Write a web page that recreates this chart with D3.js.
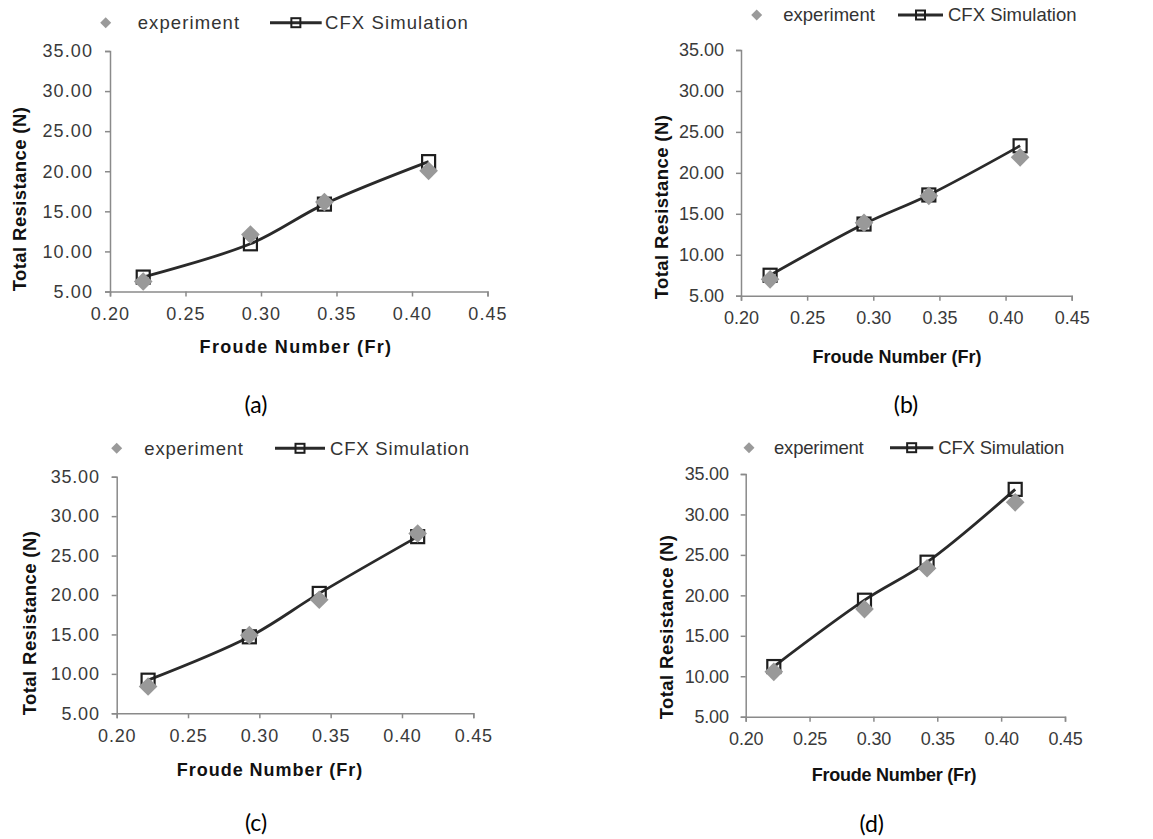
<!DOCTYPE html>
<html>
<head>
<meta charset="utf-8">
<script src="https://cdn.jsdelivr.net/npm/d3@7"></script>
<style>
  body { margin: 0; background: #fff; }
  svg { display: block; }
  .tick text { fill: #3a3a3a; font-family: "Liberation Sans", Arial, sans-serif; font-size: 18px; }
  .axis path, .axis line { stroke: #8a8a8a; stroke-width: 1.5; }
</style>
</head>
<body>
<div id="chart"></div>
<script>
// data
var froude = [0.222, 0.293, 0.342, 0.411];

var expA = [6.25, 12.1, 16.15, 20.05];
var simA = [6.8, 10.95, 15.9, 21.2];
var expB = [7.0, 13.9, 17.2, 21.9];
var simB = [7.5, 13.75, 17.3, 23.3];
var expC = [8.4, 14.9, 19.4, 27.8];
var simC = [9.2, 14.7, 20.2, 27.4];
var expD = [10.55, 18.3, 23.35, 31.5];
var simD = [11.2, 19.4, 24.1, 33.1];

var xTicks = [0.20, 0.25, 0.30, 0.35, 0.40, 0.45];
var yTicks = [5, 10, 15, 20, 25, 30, 35];
var seriesNames = ['experiment', 'CFX Simulation'];
var panelLabels = ['(a)', '(b)', '(c)', '(d)'];
var xTitle = 'Froude Number (Fr)';
var yTitle = 'Total Resistance (N)';

// layout of each panel (pixels)
var panels = [
    { exp: expA, sim: simA, x0: 110, x1: 487.5, yT: 51, yB: 291.5, ls: 1.1,
      leg: { dx: 105.7, y: 22.7, tx: 137.7, l0: 270, l1: 321.7, cx: 325 },
      yt: { x: 20, y: 199 }, xt: { x: 296, y: 347 }, lab: { x: 256, y: 413 } },
    { exp: expB, sim: simB, x0: 741, x1: 1071.7, yT: 50, yB: 295.7, ls: 0,
      leg: { dx: 756.7, y: 15, tx: 783.3, l0: 898, l1: 943, cx: 948 },
      yt: { x: 661.7, y: 207 }, xt: { x: 897, y: 357 }, lab: { x: 906, y: 413 } },
    { exp: expC, sim: simC, x0: 116.7, x1: 473.3, yT: 476.7, yB: 713.3, ls: 0.8,
      leg: { dx: 116.7, y: 448.3, tx: 144.3, l0: 275, l1: 325, cx: 330 },
      yt: { x: 30, y: 623 }, xt: { x: 270, y: 770 }, lab: { x: 256, y: 831 } },
    { exp: expD, sim: simD, x0: 745.7, x1: 1065, yT: 474, yB: 716.7, ls: -0.2,
      leg: { dx: 749, y: 447.7, tx: 774, l0: 890, l1: 933.3, cx: 938.3 },
      yt: { x: 666.7, y: 627 }, xt: { x: 894, y: 775 }, lab: { x: 871.7, y: 832 } }
];

var svg = d3.select('#chart').append('svg')
    .attr('width', 1153)
    .attr('height', 839);

var diamond = d3.symbol().type(d3.symbolSquare).size(175);
var legDiamond = d3.symbol().type(d3.symbolSquare).size(60);

panels.forEach(function (p, i) {
    var xScale = d3.scaleLinear().domain([0.20, 0.45]).range([p.x0, p.x1]);
    var yScale = d3.scaleLinear().domain([5, 35]).range([p.yB, p.yT]);

    var xAxis = d3.axisBottom(xScale).tickValues(xTicks).tickSize(5).tickPadding(11)
        .tickFormat(d3.format('.2f'));
    var yAxis = d3.axisLeft(yScale).tickValues(yTicks).tickSize(5).tickPadding(12)
        .tickFormat(d3.format('.2f'));

    var gx = svg.append('g').attr('class', 'axis')
        .attr('transform', 'translate(0,' + p.yB + ')')
        .call(xAxis);
    var gy = svg.append('g').attr('class', 'axis')
        .attr('transform', 'translate(' + p.x0 + ',0)')
        .call(yAxis);
    gx.selectAll('text').style('letter-spacing', p.ls + 'px');
    gy.selectAll('text').style('letter-spacing', p.ls + 'px');

    var pts = froude.map(function (f, k) { return { x: f, e: p.exp[k], s: p.sim[k] }; });

    var line = d3.line()
        .x(function (d) { return xScale(d.x); })
        .y(function (d) { return yScale(d.s); })
        .curve(d3.curveCatmullRom.alpha(0.5));

    svg.append('path')
        .datum(pts)
        .attr('d', line)
        .attr('fill', 'none')
        .attr('stroke', '#2a2a2a')
        .attr('stroke-width', 2.8);

    svg.selectAll(null)
        .data(pts)
        .enter()
        .append('rect')
        .attr('x', function (d) { return xScale(d.x) - 6.5; })
        .attr('y', function (d) { return yScale(d.s) - 6.5; })
        .attr('width', 13)
        .attr('height', 13)
        .attr('fill', 'none')
        .attr('stroke', '#1e1e1e')
        .attr('stroke-width', 2.2);

    svg.selectAll(null)
        .data(pts)
        .enter()
        .append('path')
        .attr('d', diamond)
        .attr('transform', function (d) {
            return 'translate(' + xScale(d.x) + ',' + yScale(d.e) + ') rotate(45)';
        })
        .attr('fill', '#999999');

    // legend
    var lg = svg.append('g')
        .style('font-family', '"Liberation Sans", Arial, sans-serif')
        .style('font-size', '18.5px')
        .style('letter-spacing', p.ls + 'px')
        .attr('fill', '#333');
    lg.append('path')
        .attr('d', legDiamond)
        .attr('transform', 'translate(' + p.leg.dx + ',' + p.leg.y + ') rotate(45)')
        .attr('fill', '#9a9a9a');
    lg.append('text')
        .attr('x', p.leg.tx).attr('y', p.leg.y).attr('dy', '0.35em')
        .text(seriesNames[0]);
    lg.append('line')
        .attr('x1', p.leg.l0).attr('x2', p.leg.l1)
        .attr('y1', p.leg.y).attr('y2', p.leg.y)
        .attr('stroke', '#2a2a2a').attr('stroke-width', 3);
    var mid = (p.leg.l0 + p.leg.l1) / 2;
    lg.append('rect')
        .attr('x', mid - 4.5).attr('y', p.leg.y - 4.5)
        .attr('width', 9).attr('height', 9)
        .attr('fill', 'none').attr('stroke', '#1e1e1e').attr('stroke-width', 2);
    lg.append('text')
        .attr('x', p.leg.cx).attr('y', p.leg.y).attr('dy', '0.35em')
        .text(seriesNames[1]);

    // axis titles
    svg.append('text')
        .attr('transform', 'translate(' + p.yt.x + ',' + p.yt.y + ') rotate(-90)')
        .attr('text-anchor', 'middle')
        .attr('dy', '0.35em')
        .style('font-family', '"Liberation Sans", Arial, sans-serif')
        .style('font-size', '18.5px')
        .style('font-weight', 'bold')
        .style('letter-spacing', '0.4px')
        .attr('fill', '#111')
        .text(yTitle);
    svg.append('text')
        .attr('x', p.xt.x).attr('y', p.xt.y)
        .attr('text-anchor', 'middle')
        .attr('dy', '0.35em')
        .style('font-family', '"Liberation Sans", Arial, sans-serif')
        .style('font-size', '18px')
        .style('font-weight', 'bold')
        .style('letter-spacing', (p.ls * 1.2) + 'px')
        .attr('fill', '#111')
        .text(xTitle);

    svg.append('text')
        .attr('x', p.lab.x).attr('y', p.lab.y)
        .attr('text-anchor', 'middle')
        .style('font-family', 'Lato, "Open Sans", sans-serif')
        .style('font-size', '23px')
        .attr('fill', '#000')
        .text(panelLabels[i]);
});
</script>
</body>
</html>
